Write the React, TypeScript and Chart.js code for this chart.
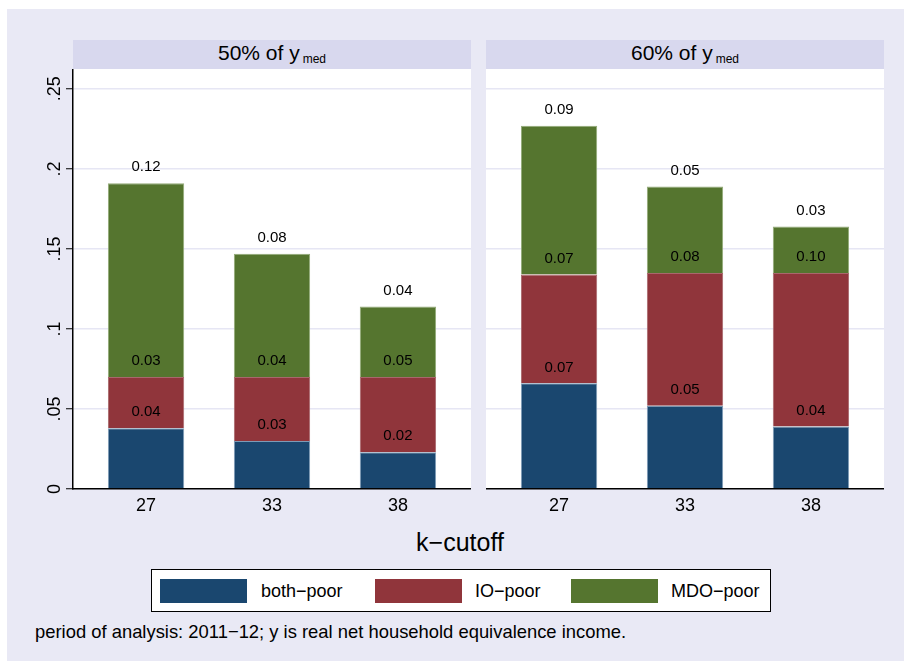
import React, { useEffect, useRef } from "react";
import { Chart, registerables } from "chart.js";

Chart.register(...registerables);

const FONT = '"Liberation Sans", Arial, Helvetica, sans-serif';

const categories = ["27", "33", "38"];
const seriesNames = ["both−poor", "IO−poor", "MDO−poor"];
const seriesColors = ["#1A476F", "#90353B", "#55752F"];
const seriesBorders = ["#7E9BB6", "#A9676C", "#93AB78"];
const panelTitles = ["50% of y", "60% of y"];
const panelSub = "med";

// 50% of y_med panel
const both50 = [0.038, 0.03, 0.023];
const io50 = [0.032, 0.04, 0.047];
const mdo50 = [0.121, 0.077, 0.044];

// 60% of y_med panel
const both60 = [0.066, 0.052, 0.039];
const io60 = [0.068, 0.083, 0.096];
const mdo60 = [0.093, 0.054, 0.029];

const yTicks = [0, 0.05, 0.1, 0.15, 0.2, 0.25];
const yTickLabels = ["0", ".05", ".1", ".15", ".2", ".25"];
const xTitle = "k−cutoff";
const note = "period of analysis: 2011−12; y is real net household equivalence income.";

const BG = "#E9E9F5";
const STRIP = "#D8D8EE";
const GRID = "#E6E6F4";

const plotBgPlugin = {
  id: "plotBg",
  beforeDraw(chart: any) {
    const { ctx, chartArea } = chart;
    ctx.save();
    ctx.fillStyle = "#fff";
    ctx.fillRect(chartArea.left, chartArea.top, chartArea.right - chartArea.left, chartArea.bottom - chartArea.top);
    ctx.restore();
  },
};

const labelPlugin = {
  id: "segLabels",
  afterDatasetsDraw(chart: any) {
    const ctx = chart.ctx;
    ctx.save();
    ctx.font = `15px ${FONT}`;
    ctx.fillStyle = "#000";
    ctx.textAlign = "center";
    ctx.textBaseline = "middle";
    chart.data.datasets.forEach((ds: any, di: number) => {
      const meta = chart.getDatasetMeta(di);
      meta.data.forEach((el: any, i: number) => {
        const v = ds.data[i].y as number;
        ctx.fillText(v.toFixed(2), el.x, el.y - 16);
      });
    });
    ctx.restore();
  },
};

function Panel({ values, showY }: { values: number[][]; showY: boolean }) {
  const ref = useRef<HTMLCanvasElement>(null);
  useEffect(() => {
    if (!ref.current) return;
    const chart = new Chart(ref.current, {
      type: "bar",
      data: {
        datasets: seriesNames.map((name, s) => ({
          label: name,
          data: values[s].map((v, i) => ({ x: i, y: v })),
          backgroundColor: seriesColors[s],
          borderColor: seriesBorders[s],
          borderWidth: 1,
          barPercentage: 0.606,
          categoryPercentage: 1,
        })),
      } as any,
      options: {
        responsive: true,
        maintainAspectRatio: false,
        animation: false,
        layout: { padding: 0 },
        plugins: {
          legend: { display: false },
          tooltip: { enabled: false },
          title: { display: false },
        },
        scales: {
          x: {
            type: "linear",
            stacked: true,
            offset: false,
            min: -0.58,
            max: 2.58,
            afterBuildTicks: (s: any) => {
              s.ticks = categories.map((_, i) => ({ value: i }));
            },
            afterFit: (s: any) => {
              s.height = 31;
              s.paddingLeft = 0;
              s.paddingRight = 0;
            },
            ticks: {
              callback: (v: any) => categories[v] ?? "",
              color: "#000",
              font: { family: FONT, size: 18 },
              padding: 6,
              autoSkip: false,
              maxRotation: 0,
            },
            grid: { display: false, drawTicks: false, offset: false },
            border: { display: true, color: "#000", width: 1.5, z: 1 },
          },
          y: {
            stacked: true,
            min: 0,
            max: 0.2624,
            afterBuildTicks: (s: any) => {
              s.ticks = yTicks.map((v) => ({ value: v }));
            },
            afterFit: (s: any) => {
              s.width = showY ? 73 : 0;
              s.paddingTop = 0;
              s.paddingBottom = 0;
            },
            ticks: {
              display: showY,
              callback: (v: any) => {
                const i = yTicks.indexOf(v);
                return i >= 0 ? yTickLabels[i] : "";
              },
              minRotation: 90,
              maxRotation: 90,
              crossAlign: "center",
              padding: -2,
              color: "#000",
              font: { family: FONT, size: 18 },
            },
            grid: {
              color: GRID,
              lineWidth: 1.5,
              drawTicks: showY,
              tickLength: 7,
              tickColor: "#000",
              tickWidth: 1,
            },
            border: { display: showY, color: "#000", width: 1.5 },
          },
        },
      } as any,
      plugins: [plotBgPlugin, labelPlugin],
    });
    return () => chart.destroy();
  }, [values, showY]);
  return <canvas ref={ref} />;
}

const panel50 = [both50, io50, mdo50];
const panel60 = [both60, io60, mdo60];

export default function App() {
  const abs = (l: number, t: number, w: number, h: number): React.CSSProperties => ({
    position: "absolute",
    left: l,
    top: t,
    width: w,
    height: h,
  });
  const stripText = (title: string) => (
    <span style={{ fontSize: 21 }}>
      {title}
      <span style={{ fontSize: 12, position: "relative", top: 3, marginLeft: 3 }}>{panelSub}</span>
    </span>
  );
  const legendX = [
    { sw: 160, tx: 261 },
    { sw: 375, tx: 475 },
    { sw: 571, tx: 671 },
  ];
  return (
    <div style={{ ...abs(0, 0, 904, 661), background: "#fff", fontFamily: FONT, color: "#000", overflow: "hidden" }}>
      <div style={{ ...abs(7, 9, 897, 652), background: BG }} />
      {/* strips */}
      <div style={{ ...abs(73, 40, 398, 29), background: STRIP, display: "flex", alignItems: "center", justifyContent: "center", lineHeight: "29px" }}>
        {stripText(panelTitles[0])}
      </div>
      <div style={{ ...abs(486, 40, 398, 29), background: STRIP, display: "flex", alignItems: "center", justifyContent: "center", lineHeight: "29px" }}>
        {stripText(panelTitles[1])}
      </div>
      {/* panels */}
      <div style={abs(0, 69, 471, 451)}>
        <Panel values={panel50} showY={true} />
      </div>
      <div style={abs(486, 69, 398, 451)}>
        <Panel values={panel60} showY={false} />
      </div>
      {/* x title */}
      <div style={{ ...abs(360, 527, 200, 30), textAlign: "center", fontSize: 25, lineHeight: "30px" }}>{xTitle}</div>
      {/* legend */}
      <div style={{ ...abs(151, 569, 620, 43), background: "#fff", border: "1px solid #000", boxSizing: "border-box" }} />
      {seriesNames.map((n, s) => (
        <React.Fragment key={n}>
          <div style={{ ...abs(legendX[s].sw, 579, 87, 24), background: seriesColors[s] }} />
          <div style={{ ...abs(legendX[s].tx, 579, 120, 24), fontSize: 18, lineHeight: "24px", whiteSpace: "nowrap" }}>{n}</div>
        </React.Fragment>
      ))}
      {/* note */}
      <div style={{ ...abs(35, 620, 800, 24), fontSize: 18.4, lineHeight: "24px", whiteSpace: "nowrap" }}>{note}</div>
    </div>
  );
}
